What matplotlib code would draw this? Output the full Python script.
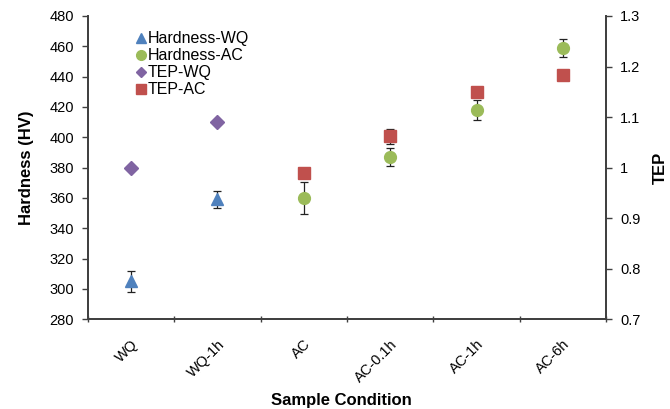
import numpy as np
import matplotlib
matplotlib.use("Agg")
import matplotlib.pyplot as plt
from matplotlib.lines import Line2D
from matplotlib.ticker import FormatStrFormatter, MultipleLocator

plt.rcParams['font.family'] = ['Liberation Sans', 'DejaVu Sans']

conditions = ['WQ', 'WQ-1h', 'AC', 'AC-0.1h', 'AC-1h', 'AC-6h']

# hardness (left axis)
hard_wq = [305, 359]
hard_wq_err = [7, 5.3]
hard_ac = [360, 387, 418, 459]
hard_ac_err = [10.5, 6, 6.3, 5.8]

# thermoelectric power (right axis)
tep_wq = [1.0, 1.09]
tep_ac = [0.99, 1.062, 1.149, 1.183]
tep_ac_err = [0, 0.015, 0.005, 0]

blue = '#4F81BD'
green = '#9BBB59'
purple = '#8064A2'
red = '#C0504D'
axcol = '#404040'

x = np.arange(len(conditions)) + 0.5
x_wq = x[:2]
x_ac = x[2:]

fig = plt.figure(figsize=(6.7, 4.09), dpi=100)
ax = fig.add_axes([0.1313, 0.2193, 0.7732, 0.7416])
ax2 = ax.twinx()

ekw = dict(ecolor='#222222', elinewidth=0.9, capsize=3, capthick=0.9, linestyle='none')
ax.errorbar(x_wq, hard_wq, yerr=hard_wq_err, marker='^', ms=9, color=blue, zorder=3, **ekw)
ax.errorbar(x_ac, hard_ac, yerr=hard_ac_err, marker='o', ms=8.5, color=green, zorder=3, **ekw)
ax2.plot(x_wq, tep_wq, marker='D', ms=7, color=purple, linestyle='none')
ax2.errorbar(x_ac, tep_ac, yerr=tep_ac_err, marker='none', **ekw)
ax2.plot(x_ac, tep_ac, marker='s', ms=8, color=red, linestyle='none')

ax.set_xlim(0, 6)
ax.set_ylim(280, 480)
ax.yaxis.set_major_locator(MultipleLocator(20))
ax2.set_ylim(0.7, 1.3)
ax2.yaxis.set_major_locator(MultipleLocator(0.1))
ax2.yaxis.set_major_formatter(FormatStrFormatter('%g'))

ax.set_xticks(np.arange(0, 7))
ax.set_xticklabels([])
ax.set_xticks(x, minor=True)
ax.set_xticklabels(conditions, minor=True, rotation=45, ha='right',
                   rotation_mode='anchor', fontsize=10.5)
ax.tick_params(axis='x', which='minor', length=0, pad=13)
ax.tick_params(axis='x', which='major', length=4, width=1, color=axcol, direction='inout')
ax.tick_params(axis='y', length=4, width=1, color=axcol, labelsize=10.5, pad=6)
ax2.tick_params(axis='y', length=4, width=1, color=axcol, labelsize=10.5, pad=6)

for a in (ax, ax2):
    a.spines['top'].set_visible(False)
    for s in ('left', 'bottom', 'right'):
        a.spines[s].set_color(axcol)
        a.spines[s].set_linewidth(1.3)

ax.set_ylabel('Hardness (HV)', fontsize=12, fontweight='bold', labelpad=11)
ax2.set_ylabel('TEP', fontsize=12, fontweight='bold', labelpad=9)
fig.text(0.51, 0.022, 'Sample Condition', ha='center', va='center',
         fontsize=12, fontweight='bold')

handles = [
    Line2D([], [], marker='^', ms=7.5, color=blue, linestyle='none', label='Hardness-WQ'),
    Line2D([], [], marker='o', ms=7, color=green, linestyle='none', label='Hardness-AC'),
    Line2D([], [], marker='D', ms=5.5, color=purple, linestyle='none', label='TEP-WQ'),
    Line2D([], [], marker='s', ms=6.5, color=red, linestyle='none', label='TEP-AC'),
]
ax2.legend(handles=handles, loc='upper left', bbox_to_anchor=(0.08, 0.97),
           frameon=False, fontsize=11.5, handlelength=0.6, handletextpad=0.15,
           labelspacing=0.12, borderaxespad=0)

fig.savefig('out.png', dpi=100)
